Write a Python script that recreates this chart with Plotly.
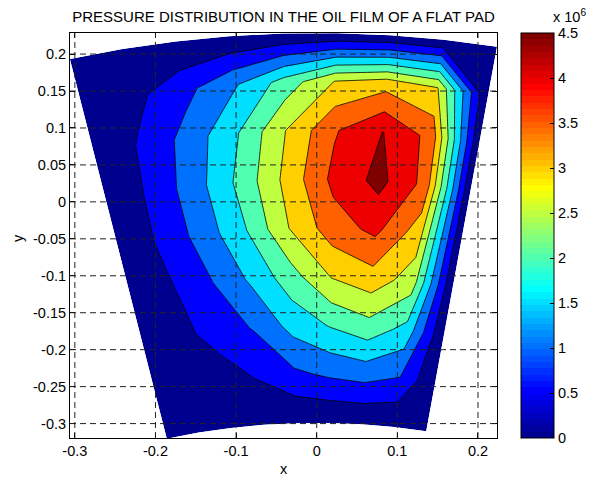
import numpy as np
import plotly.graph_objects as go

# ---------------- data ----------------
# polar grid of the pad: angles (deg, from the vertical) and radii
theta_deg = [-13.17, -10.33, -7.48, -4.64, -1.80, 1.05, 3.89, 6.74, 9.58]
radius = [0.816, 0.882, 0.948, 1.014, 1.080, 1.146, 1.212, 1.278, 1.3435]
center_y = -1.115

# pressure in units of 10^6, one row per radius (inner -> outer), left -> right
p_r0 = [0, 0, 0, 0, 0, 0, 0, 0, 0]
p_r1 = [0, 0.22, 0.30, 0.55, 0.90, 1.08, 1.17, 0.97, 0]
p_r2 = [0, 0.35, 0.69, 1.05, 1.68, 2.04, 2.31, 1.84, 0]
p_r3 = [0, 0.44, 0.96, 1.58, 2.29, 3.03, 3.30, 2.75, 0]
p_r4 = [0, 0.59, 1.21, 1.99, 3.01, 3.78, 4.12, 3.25, 0]
p_r5 = [0, 0.60, 1.31, 2.17, 3.17, 4.13, 4.65, 3.85, 0]
p_r6 = [0, 0.57, 1.20, 1.98, 3.01, 3.95, 4.51, 3.84, 0]
p_r7 = [0, 0.35, 0.83, 1.42, 2.20, 3.03, 3.30, 3.02, 0]
p_r8 = [0, 0, 0, 0, 0, 0, 0, 0, 0]

contour_levels = dict(start=0.5, end=4.5, size=0.5)
x_ticks = [-0.3, -0.2, -0.1, 0, 0.1, 0.2]
x_ticktext = ["-0.3", "-0.2", "-0.1", "0", "0.1", "0.2"]
y_ticks = [-0.3, -0.25, -0.2, -0.15, -0.1, -0.05, 0, 0.05, 0.1, 0.15, 0.2]
y_ticktext = ["-0.3", "-0.25", "-0.2", "-0.15", "-0.1", "-0.05", "0", "0.05", "0.1", "0.15", "0.2"]
cbar_ticks = [0, 0.5, 1, 1.5, 2, 2.5, 3, 3.5, 4, 4.5]
cbar_ticktext = ["0", "0.5", "1", "1.5", "2", "2.5", "3", "3.5", "4", "4.5"]

# ---------------- build ----------------
TH = np.radians(np.array(theta_deg))[None, :]
R = np.array(radius)[:, None]
X = R * np.sin(TH)
Y = center_y + R * np.cos(TH)
Z = np.array([p_r0, p_r1, p_r2, p_r3, p_r4, p_r5, p_r6, p_r7, p_r8])

# MATLAB-like band colours (jet, one colour per filled band)
band_colors = ["rgb(0,0,143)", "rgb(0,0,255)", "rgb(0,112,255)", "rgb(0,223,255)",
               "rgb(80,255,175)", "rgb(191,255,64)", "rgb(255,207,0)",
               "rgb(255,96,0)", "rgb(239,0,0)", "rgb(128,0,0)"]
band_scale = [[i / 9, c] for i, c in enumerate(band_colors)]


def jet(m=64):
    n = int(np.ceil(m / 4))
    u = np.concatenate([np.arange(1, n + 1) / n, np.ones(n - 1), np.arange(n, 0, -1) / n])
    g = int(np.ceil(n / 2)) - (1 if m % 4 == 1 else 0) + np.arange(1, len(u) + 1)
    r = g + n
    b = g - n
    J = np.zeros((m, 3))
    for arr, col in ((r, 0), (g, 1), (b, 2)):
        mask = (arr >= 1) & (arr <= m)
        J[arr[mask] - 1, col] = u[mask]
    return J


J = jet(64)
jet_scale = []
for k in range(64):
    c = "rgb(%d,%d,%d)" % tuple(np.round(J[k] * 255).astype(int))
    jet_scale.append([k / 64, c])
    jet_scale.append([(k + 1) / 64, c])

FONT = "Liberation Sans, Arial, Helvetica, sans-serif"
FS = 14.5

fig = go.Figure()
hidden_axis = dict(showgrid=False, showline=False, showticklabels="none",
                   startline=False, endline=False, smoothing=0,
                   minorgridcount=0, gridcolor="rgba(0,0,0,0)",
                   linecolor="rgba(0,0,0,0)")
fig.add_trace(go.Carpet(a=theta_deg, b=radius, x=X, y=Y, carpet="pad",
                        aaxis=hidden_axis, baxis=hidden_axis,
                        color="rgba(0,0,0,0)"))
fig.add_trace(go.Contourcarpet(
    a=theta_deg, b=radius, z=Z, carpet="pad",
    autocontour=False, contours=dict(coloring="fill", showlines=True, **contour_levels),
    line=dict(color="black", width=0.8, smoothing=0),
    colorscale=band_scale, showscale=False))

# continuous jet colour bar
fig.add_trace(go.Scatter(
    x=[None], y=[None], mode="markers", showlegend=False, hoverinfo="skip",
    marker=dict(color=[0], cmin=0, cmax=4.5, colorscale=jet_scale, showscale=True,
                colorbar=dict(x=(525 - 70) / 431, xanchor="left", xpad=0,
                              y=0.5, yanchor="middle", len=1, lenmode="fraction", ypad=0,
                              thickness=33, thicknessmode="pixels",
                              outlinewidth=1, outlinecolor="black",
                              tickvals=cbar_ticks, ticktext=cbar_ticktext,
                              ticks="inside", ticklen=4, tickcolor="black",
                              tickfont=dict(family=FONT, size=FS, color="black")))))

# dashed grid drawn above the contours (as in MATLAB)
shapes = []
for xv in x_ticks:
    shapes.append(dict(type="line", xref="x", yref="paper", x0=xv, x1=xv, y0=0, y1=1,
                       line=dict(color="#222", width=1, dash="6px,4px"), layer="above"))
for yv in y_ticks:
    shapes.append(dict(type="line", xref="paper", yref="y", x0=0, x1=1, y0=yv, y1=yv,
                       line=dict(color="#222", width=1, dash="6px,4px"), layer="above"))

axis_common = dict(showgrid=False, zeroline=False, showline=True, linecolor="black",
                   linewidth=1, mirror="ticks", ticks="inside", ticklen=5,
                   tickcolor="black", layer="above traces",
                   tickfont=dict(family=FONT, size=FS, color="black"))

# the page adds an 8px body margin, so the figure is made 8px smaller
W, H = 587, 472
fig.update_layout(
    width=W, height=H,
    margin=dict(l=62, r=94, t=25, b=42),
    paper_bgcolor="white", plot_bgcolor="white",
    font=dict(family=FONT, color="black"),
    showlegend=False,
    xaxis=dict(range=[-0.306, 0.2236], tickvals=x_ticks, ticktext=x_ticktext, **axis_common),
    yaxis=dict(range=[-0.3195, 0.2285], tickvals=y_ticks, ticktext=y_ticktext, **axis_common),
    title=dict(text="PRESSURE DISTRIBUTION IN THE OIL FILM OF A FLAT PAD",
               x=0.5, xref="paper", xanchor="center",
               y=1 - 8.5 / H, yref="container", yanchor="middle",
               font=dict(family=FONT, size=15, color="black")),
    shapes=shapes,
    annotations=[
        dict(text="x", xref="paper", yref="paper", x=0.5, y=(437.7 - 469) / 404.4,
             xanchor="center", yanchor="middle", showarrow=False,
             font=dict(family=FONT, size=FS, color="black")),
        dict(text="y", xref="paper", yref="paper", x=(8.5 - 70) / 431, y=(437.7 - 238) / 404.4,
             xanchor="left", yanchor="middle", showarrow=False, textangle=-90,
             borderpad=0, font=dict(family=FONT, size=FS, color="black")),
        dict(text="x 10<sup>6</sup>", xref="paper", yref="paper",
             x=(557 - 70) / 431, y=(437.7 - 26) / 404.4,
             xanchor="left", yanchor="bottom", showarrow=False, borderpad=0,
             font=dict(family=FONT, size=FS, color="black")),
    ],
)

fig.write_html("out.html")
